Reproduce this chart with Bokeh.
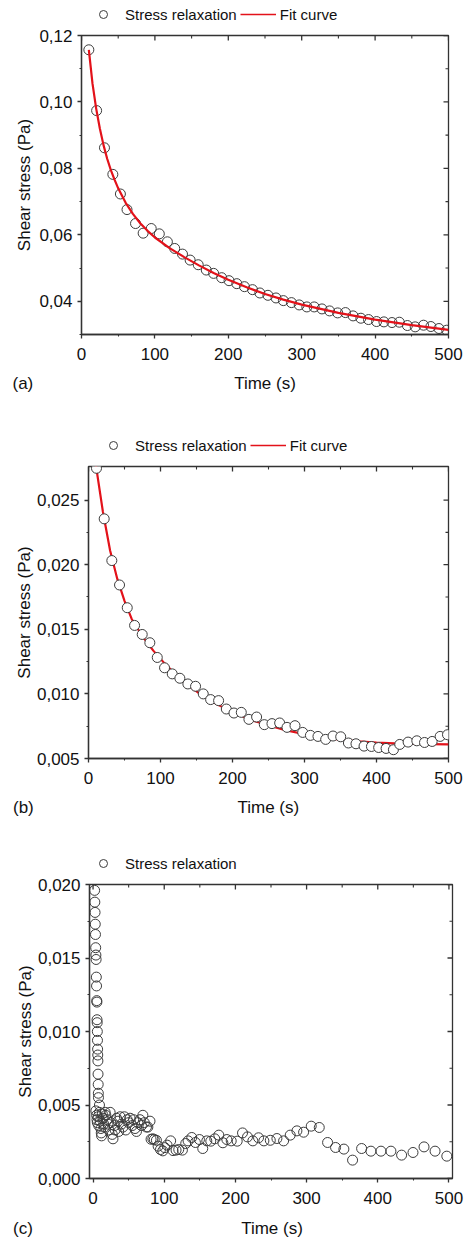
import math
from bokeh.plotting import figure
from bokeh.models import (FixedTicker, CustomJSTickFormatter, Legend, LegendItem, Label,
                          Range1d)
from bokeh.layouts import column
from bokeh.embed import file_html
from bokeh.resources import INLINE

FONT = "Liberation Sans"
RED = "#e3121a"
DARK = "#333333"
W = 465

# ---------------- data: panel (a) ----------------
a_time = [10, 20.6, 31.3, 42.7, 53, 62, 73.6, 84, 95, 106, 117, 127, 137.6, 148, 159,
          170, 180, 191, 201, 211.6, 222, 233, 243, 254, 265, 275, 286, 296.6, 307,
          317, 327.6, 338, 349, 359.6, 370, 380.6, 391, 402, 412, 423, 433, 444,
          454.6, 466, 476, 487, 497.6]
a_stress = [0.1157, 0.0974, 0.0862, 0.0782, 0.0723, 0.0676, 0.0634, 0.0605, 0.0619,
            0.0603, 0.0579, 0.0559, 0.0542, 0.0524, 0.0510, 0.0494, 0.0484, 0.0471,
            0.0462, 0.0453, 0.0444, 0.0435, 0.0425, 0.0418, 0.0410, 0.0402, 0.0396,
            0.0389, 0.0383, 0.0383, 0.0377, 0.0371, 0.0365, 0.0366, 0.0356, 0.0349,
            0.0345, 0.0339, 0.0338, 0.0336, 0.0337, 0.0327, 0.0323, 0.0328, 0.0324,
            0.0318, 0.0313]
a_fit_time = [10, 15, 20, 25, 30, 35, 40, 45, 50, 60, 70, 80, 90, 100, 120, 140, 160,
              180, 200, 225, 250, 275, 300, 350, 400, 450, 500]
a_fit = [0.1157, 0.1055, 0.0980, 0.0920, 0.0870, 0.0829, 0.0795, 0.0766, 0.0740,
         0.0697, 0.0663, 0.0635, 0.0612, 0.0592, 0.0560, 0.0533, 0.0508, 0.0485,
         0.0465, 0.0442, 0.0422, 0.0405, 0.0390, 0.0365, 0.0345, 0.0328, 0.0314]

# ---------------- data: panel (b) ----------------
b_time = [11.1, 21.8, 32.4, 43.1, 53.8, 64, 74.6, 85.2, 95.5, 105.6, 116.3, 126.9,
          138, 148.7, 159.4, 169.6, 180.7, 191.4, 202, 212.2, 222.8, 233.5, 244.2,
          254.8, 265.5, 275.7, 286.8, 297.5, 308.2, 318.7, 329.4, 339.6, 350.3, 361,
          371.5, 382.7, 393, 403, 413.3, 423.5, 432.3, 443.9, 456, 466.7, 477.3,
          488.4, 498.6]
b_stress = [0.02746, 0.02355, 0.02032, 0.01843, 0.01667, 0.01530, 0.01460, 0.01396,
            0.01282, 0.01202, 0.01155, 0.01121, 0.01077, 0.01059, 0.01000, 0.00956,
            0.00948, 0.00883, 0.00852, 0.00857, 0.00803, 0.00821, 0.00762, 0.00770,
            0.00775, 0.00741, 0.00754, 0.00702, 0.00679, 0.00671, 0.00648, 0.00674,
            0.00668, 0.00620, 0.00614, 0.00596, 0.00593, 0.00585, 0.00578, 0.00568,
            0.00609, 0.00627, 0.00637, 0.00624, 0.00632, 0.00671, 0.00684]
b_fit_time = [10, 20, 30, 40, 50, 60, 75, 90, 105, 120, 140, 160, 180, 200, 225, 250,
              275, 300, 325, 350, 375, 400, 425, 450, 475, 500]
b_fit = [0.0278, 0.0241, 0.0211, 0.0189, 0.0172, 0.0158, 0.01445, 0.01335, 0.0124,
         0.01155, 0.0106, 0.0098, 0.00915, 0.0086, 0.0080, 0.00755, 0.00718, 0.00688,
         0.00664, 0.00645, 0.00632, 0.00623, 0.00617, 0.00614, 0.00612, 0.00610]

# ---------------- data: panel (c) ----------------
c_time = [2.2, 2.5, 2.8, 3.1, 3.4, 3.7, 4.0, 4.3, 4.6, 4.9, 5.2, 5.4, 5.6, 5.8, 6.0,
          6.2, 6.4, 6.6, 6.8, 7.0, 7.2, 7.4, 7.6, 9.0,
          4, 5, 5.5, 6, 7, 8, 9, 10, 11, 11.5, 12, 13, 14, 15, 16, 17, 18, 20, 21, 22,
          24, 25, 27, 28, 30, 31, 33, 35, 36, 38, 40, 42, 44, 46, 48, 50, 52, 55, 57,
          59, 61, 63, 66, 68, 70, 72, 75, 77, 80,
          81.5, 84, 86, 89, 91.4, 94.7, 98, 100.8, 104, 109, 112.4, 116.6, 120.4,
          125.5, 130.2, 133.5, 138.7, 143.8, 149.5, 154.1, 159.8, 165.4, 171, 176.7,
          182.4, 188, 194.1, 202.5, 210, 217, 224.5, 232.5, 240, 249, 258.3, 267.7,
          277, 286.4, 295.8, 306.5, 317.8, 329.5, 340.7, 352.4, 364.6, 377.3, 390.4,
          404.5, 418.5, 433.5, 449.5, 465, 480.5, 497]
c_stress = [0.0196, 0.0188, 0.0181, 0.0173, 0.0166, 0.0157, 0.0152, 0.0149, 0.0137,
            0.0131, 0.0121, 0.0120, 0.0108, 0.0106, 0.0100, 0.0094, 0.0088, 0.0084,
            0.0080, 0.0071, 0.0064, 0.0058, 0.0055, 0.0050,
            0.0046, 0.0043, 0.0040, 0.0038, 0.0042, 0.0036, 0.0045, 0.0039, 0.0034,
            0.0031, 0.0029, 0.0044, 0.0041, 0.0037, 0.0035, 0.0045, 0.0043, 0.0040,
            0.0037, 0.0033, 0.0045, 0.0038, 0.0030, 0.0027, 0.0036, 0.0033, 0.0041,
            0.0039, 0.0032, 0.0042, 0.0037, 0.0035, 0.0042, 0.0033, 0.0040, 0.0038,
            0.0041, 0.0036, 0.0040, 0.0034, 0.0032, 0.0038, 0.0040, 0.0036, 0.0043,
            0.0038, 0.0035, 0.0035, 0.0039,
            0.00267, 0.00270, 0.00265, 0.00260, 0.00220, 0.00197, 0.00188, 0.00210,
            0.00227, 0.00256, 0.00190, 0.00193, 0.00197, 0.00193, 0.00238, 0.00256,
            0.00279, 0.00245, 0.00265, 0.00204, 0.00256, 0.00254, 0.00270, 0.00295,
            0.00243, 0.00265, 0.00256, 0.00254, 0.00310, 0.00283, 0.00256, 0.00277,
            0.00256, 0.00260, 0.00272, 0.00256, 0.00295, 0.00324, 0.00315, 0.00356,
            0.00347, 0.00245, 0.00211, 0.00200, 0.00125, 0.00204, 0.00186, 0.00186,
            0.00186, 0.00159, 0.00177, 0.00215, 0.00186, 0.00152]

# ---------------- ticks / labels ----------------
x_ticks = [0, 100, 200, 300, 400, 500]
x_labels = ["0", "100", "200", "300", "400", "500"]
x_minor = [50, 150, 250, 350, 450]

a_yticks = [0.04, 0.06, 0.08, 0.10, 0.12]
a_ylabels = ["0,04", "0,06", "0,08", "0,10", "0,12"]
a_yminor = [0.03, 0.05, 0.07, 0.09, 0.11]

b_yticks = [0.005, 0.010, 0.015, 0.020, 0.025]
b_ylabels = ["0,005", "0,010", "0,015", "0,020", "0,025"]
b_yminor = [0.0075, 0.0125, 0.0175, 0.0225]

c_yticks = [0.000, 0.005, 0.010, 0.015, 0.020]
c_ylabels = ["0,000", "0,005", "0,010", "0,015", "0,020"]
c_yminor = [0.0025, 0.0075, 0.0125, 0.0175]

LOOKUP = ("const i = tvals.findIndex(t => Math.abs(t - tick) < 1e-9);"
          "return i >= 0 ? tlabels[i] : '';")


def strip(height):
    s = figure(width=W, height=height, output_backend="svg", toolbar_location=None,
               x_range=Range1d(0, W), y_range=Range1d(0, height),
               x_axis_location=None, y_axis_location=None, frame_align=False,
               min_border=0, min_border_left=0, min_border_right=0,
               min_border_top=0, min_border_bottom=0)
    s.grid.visible = False
    s.outline_line_color = None
    s.background_fill_color = "white"
    s.border_fill_color = "white"
    return s


def legend_strip(height, with_fit, fill, loc):
    s = strip(height)
    items = []
    sc = s.scatter([-50], [-50], marker="circle", size=10, fill_color=fill,
                   line_color="#3c3c3c", line_width=1)
    items.append(LegendItem(label="Stress relaxation", renderers=[sc]))
    if with_fit:
        ln = s.line([-60, -40], [-50, -50], line_color=RED, line_width=1.5)
        items.append(LegendItem(label="Fit curve", renderers=[ln]))
    s.add_layout(Legend(items=items, location=loc, orientation="horizontal",
                        glyph_width=36, glyph_height=20, label_standoff=4, spacing=3,
                        padding=0, margin=0, border_line_color=None,
                        background_fill_alpha=0, label_text_font=FONT,
                        label_text_font_size="15px", label_text_color="#111111"))
    return s


def title_strip(height, tag, tag_x, title_x, y):
    s = strip(height)
    for txt, x, al in ((tag, tag_x, "left"), ("Time (s)", title_x, "center")):
        s.add_layout(Label(x=x, y=y, x_units="screen", y_units="screen", text=txt,
                           text_font=FONT, text_font_size="17px", text_color="#111111",
                           text_baseline="middle", text_align=al))
    return s


def panel(height, mleft, mright, mtop, mbottom, xr, yr, yticks, ylabels, yminor,
          ylab_standoff):
    p = figure(width=W, height=height, output_backend="svg", toolbar_location=None,
               x_range=Range1d(*xr), y_range=Range1d(*yr), frame_align=False,
               min_border_left=mleft, min_border_right=mright,
               min_border_top=mtop, min_border_bottom=mbottom)
    p.grid.visible = False
    p.outline_line_color = DARK
    p.outline_line_width = 1.3
    p.background_fill_color = "white"
    p.border_fill_color = "white"

    xa = p.xaxis[0]
    xa.ticker = FixedTicker(ticks=x_ticks, minor_ticks=x_minor)
    xa.formatter = CustomJSTickFormatter(args=dict(tvals=x_ticks, tlabels=x_labels), code=LOOKUP)
    ya = p.yaxis[0]
    ya.ticker = FixedTicker(ticks=yticks, minor_ticks=yminor)
    ya.formatter = CustomJSTickFormatter(args=dict(tvals=yticks, tlabels=ylabels), code=LOOKUP)

    for ax in (xa, ya):
        ax.axis_line_color = DARK
        ax.axis_line_width = 1.3
        ax.major_tick_line_color = DARK
        ax.minor_tick_line_color = DARK
        ax.major_tick_line_width = 1.3
        ax.minor_tick_line_width = 1.1
        ax.major_tick_out = 4
        ax.major_tick_in = 0
        ax.minor_tick_out = 2
        ax.minor_tick_in = 0
        ax.major_label_text_font = FONT
        ax.major_label_text_font_size = "17px"
        ax.major_label_text_color = "#111111"
        ax.axis_label_text_font = FONT
        ax.axis_label_text_font_size = "17px"
        ax.axis_label_text_font_style = "normal"
        ax.axis_label_text_color = "#111111"
    xa.major_label_standoff = 9
    ya.major_label_standoff = 5
    ya.axis_label = "Shear stress (Pa)"
    ya.axis_label_standoff = ylab_standoff

    # inward ticks on the top and right frame edges (half of each dash is clipped)
    p.scatter(x_ticks, [yr[1]] * len(x_ticks), marker="dash", angle=math.pi / 2,
              size=10, line_color=DARK, line_width=1.3)
    p.scatter(x_minor, [yr[1]] * len(x_minor), marker="dash", angle=math.pi / 2,
              size=6, line_color=DARK, line_width=1.1)
    p.scatter([xr[1]] * len(yticks), yticks, marker="dash", size=10,
              line_color=DARK, line_width=1.3)
    p.scatter([xr[1]] * len(yminor), yminor, marker="dash", size=6,
              line_color=DARK, line_width=1.1)
    return p


# panel (a)
leg_a = legend_strip(24, True, None, (85, 0))
pa = panel(346, 81, 17, 11, 36, (0, 500), (0.03, 0.12), a_yticks, a_ylabels, a_yminor, 2)
pa.scatter(a_time, a_stress, marker="circle", size=10, fill_color=None,
           line_color="#3c3c3c", line_width=1)
pa.line(a_fit_time, a_fit, line_color=RED, line_width=2.2)
tit_a = title_strip(30, "(a)", 12, 264.5, 17)

# panel (b)
leg_b = legend_strip(55, True, "white", (95, 0))
pb = panel(339, 88, 17, 11, 36, (0, 500), (0.005, 0.0276), b_yticks, b_ylabels, b_yminor, 0)
pb.line(b_fit_time, b_fit, line_color=RED, line_width=2.2)
pb.scatter(b_time, b_stress, marker="circle", size=10, fill_color="white",
           line_color="#3c3c3c", line_width=1)
tit_b = title_strip(28, "(b)", 12.5, 267.8, 15)

# panel (c)
leg_c = legend_strip(51, False, None, (85, 0))
pc = panel(341, 89, 13, 11, 36, (-5, 505), (0.0, 0.020), c_yticks, c_ylabels, c_yminor, 0)
pc.scatter(c_time, c_stress, marker="circle", size=10, fill_color=None,
           line_color="#3c3c3c", line_width=1)
tit_c = title_strip(28, "(c)", 12.5, 271.5, 14)

layout = column(leg_a, pa, tit_a, leg_b, pb, tit_b, leg_c, pc, tit_c, spacing=0)
open("out.html", "w").write(file_html(layout, INLINE))
